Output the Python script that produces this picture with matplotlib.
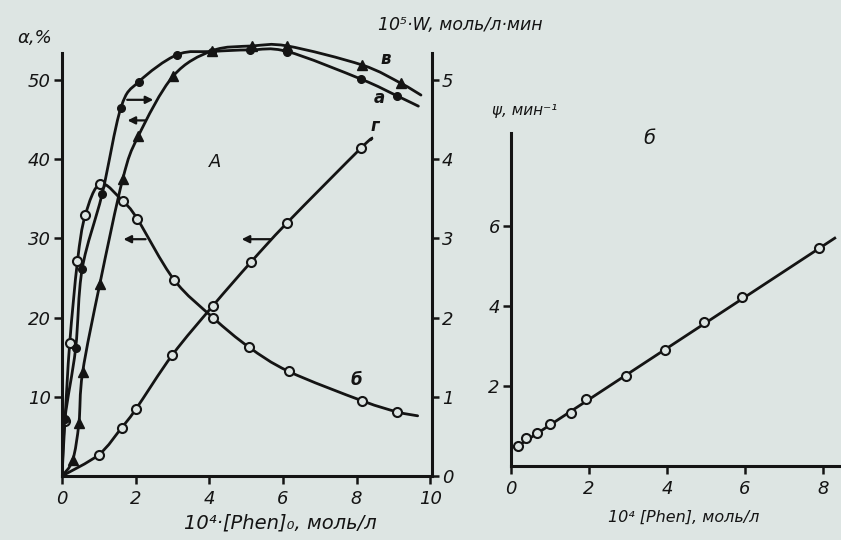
import numpy as np
import matplotlib.pyplot as plt
from matplotlib.path import Path
from matplotlib.patches import PathPatch

W_PX, H_PX = 841, 540
paper = '#dde5e3'
ink = '#141414'

plt.rcParams['font.family'] = ['DejaVu Sans']
plt.rcParams['font.style'] = 'italic'

# ---- panel A ----
# curve а: rate W (10^5 моль/л·мин), right axis
a_x = [0.08, 0.37, 0.55, 1.09, 1.60, 2.09, 3.13, 4.08, 5.11, 6.12, 8.13, 9.10]
a_y = [0.72, 1.61, 2.62, 3.56, 4.65, 4.98, 5.32, 5.36, 5.38, 5.36, 5.01, 4.80]
a_end = (9.68, 4.67)

# curve в: α, %, left axis
v_x = [0.29, 0.46, 0.56, 1.03, 1.65, 2.07, 3.02, 4.08, 5.17, 6.12, 8.15, 9.20]
v_y = [2.0, 6.7, 13.1, 24.3, 37.5, 42.9, 50.5, 53.7, 54.3, 54.3, 51.9, 49.6]
v_end = (9.75, 48.1)

# curve б: α, %
b_x = [0.08, 0.21, 0.42, 0.63, 1.04, 1.65, 2.04, 3.04, 4.10, 5.07, 6.16, 8.15, 9.10]
b_y = [7.0, 16.8, 27.1, 32.9, 36.9, 34.7, 32.5, 24.8, 20.0, 16.3, 13.2, 9.5, 8.1]
b_end = (9.66, 7.6)

# curve г: α, %
g_x = [1.00, 1.62, 2.00, 3.00, 4.10, 5.13, 6.12, 8.12]
g_y = [2.7, 6.1, 8.4, 15.3, 21.5, 27.0, 32.0, 41.4]
g_end = (8.42, 42.6)

# ---- panel Б ----
psi_x = [0.19, 0.38, 0.67, 1.00, 1.55, 1.92, 2.94, 3.96, 4.96, 5.93, 7.90]
psi_y = [0.50, 0.70, 0.82, 1.04, 1.33, 1.67, 2.26, 2.89, 3.60, 4.24, 5.46]
psi_line_x = [0.10, 8.30]
psi_line_y = [0.45, 5.70]

# annotation arrows on panel A: (tail x, tail y, head x, head y) in α units
arrows = [(1.77, 47.5, 2.48, 47.5), (2.27, 44.9, 1.78, 44.9),
          (2.27, 29.9, 1.67, 29.9), (5.67, 29.9, 4.88, 29.9)]


def smooth_line(ax, x, y, **kw):
    # Catmull-Rom spline through the points as cubic Bezier pieces
    pts = np.column_stack([x, y]).astype(float)
    n = len(pts)
    verts, codes = [pts[0]], [Path.MOVETO]
    for i in range(n - 1):
        p0 = pts[i - 1] if i > 0 else pts[i]
        p1, p2 = pts[i], pts[i + 1]
        p3 = pts[i + 2] if i + 2 < n else pts[i + 1]
        verts += [p1 + (p2 - p0) / 6, p2 - (p3 - p1) / 6, p2]
        codes += [Path.CURVE4] * 3
    ax.add_patch(PathPatch(Path(verts, codes), fill=False, capstyle='round', **kw))


def fx(px):
    return px / W_PX


def fy(py):
    return 1 - py / H_PX


fig = plt.figure(figsize=(W_PX / 100, H_PX / 100), dpi=100, facecolor=paper)

lw = 2.0
spine_w = 2.2

# panel A
axA = fig.add_axes([fx(62), fy(476), fx(432 - 62), 443.5 / H_PX])
axA.patch.set_alpha(0)
axA.set_xlim(0, 10.05)
axA.set_ylim(0, 56)
axW = axA.twinx()
axW.patch.set_alpha(0)
axW.set_ylim(0, 5.6)

smooth_line(axA, [0] + v_x + [v_end[0]], [0] + v_y + [v_end[1]], lw=lw, color=ink)
smooth_line(axA, [0] + b_x + [b_end[0]], [0] + b_y + [b_end[1]], lw=lw, color=ink)
smooth_line(axA, [0] + g_x + [g_end[0]], [0] + g_y + [g_end[1]], lw=lw, color=ink)
smooth_line(axW, [0] + a_x + [a_end[0]], [0] + a_y + [a_end[1]], lw=lw, color=ink)

axA.plot(v_x, v_y, '^', ms=6.5, color=ink, ls='none')
axA.plot(b_x, b_y, 'o', ms=6.5, mfc=paper, mec=ink, mew=1.5, ls='none')
axA.plot(g_x, g_y, 'o', ms=6.5, mfc=paper, mec=ink, mew=1.5, ls='none')
axW.plot(a_x, a_y, 'o', ms=5.5, color=ink, ls='none')

for x1, y1, x2, y2 in arrows:
    axA.annotate('', xy=(x2, y2), xytext=(x1, y1),
                 arrowprops=dict(arrowstyle='-|>', color=ink, lw=1.6,
                                 mutation_scale=11, shrinkA=0, shrinkB=0))

curve_labels = [('в', 8.8, 52.6), ('а', 8.62, 47.7), ('г', 8.5, 44.2), ('б', 8.0, 12.1)]
for s, x, y in curve_labels:
    axA.text(x, y, s, fontsize=12, fontweight='bold', color=ink, ha='center', va='center')
axA.text(4.16, 39.6, 'А', fontsize=13, color=ink, ha='center', va='center')

for sp in ['top', 'right']:
    axA.spines[sp].set_visible(False)
for sp in ['top', 'left', 'bottom']:
    axW.spines[sp].set_visible(False)
axA.spines['left'].set_bounds(0, 53.4)
axW.spines['right'].set_bounds(0, 5.34)
for sp in [axA.spines['left'], axA.spines['bottom'], axW.spines['right']]:
    sp.set_linewidth(spine_w)
    sp.set_color(ink)

axA.set_xticks([0, 2, 4, 6, 8, 10])
axA.set_yticks([10, 20, 30, 40, 50])
axW.set_yticks([0, 1, 2, 3, 4, 5])
axA.tick_params(axis='both', direction='out', length=6, width=1.8, colors=ink,
                labelsize=13, pad=2)
axA.tick_params(axis='x', pad=4)
axW.tick_params(axis='y', direction='out', length=5, width=1.8, colors=ink,
                labelsize=13, pad=2)

fig.text(fx(17), fy(38), 'α,%', fontsize=13, color=ink, va='center')
fig.text(fx(378), fy(25), '10⁵·W, моль/л·мин', fontsize=12.5, color=ink, va='center')
fig.text(fx(280), fy(523), '10⁴·[Phen]₀, моль/л', fontsize=14, color=ink,
         va='center', ha='center')

# panel Б
axB = fig.add_axes([fx(511), fy(466), fx(W_PX - 511), 333 / H_PX])
axB.patch.set_alpha(0)
axB.set_xlim(0, 8.46)
axB.set_ylim(0, 8.33)
axB.plot(psi_line_x, psi_line_y, color=ink, lw=lw)
axB.plot(psi_x, psi_y, 'o', ms=6.5, mfc=paper, mec=ink, mew=1.5, ls='none')
for sp in ['top', 'right']:
    axB.spines[sp].set_visible(False)
for sp in ['left', 'bottom']:
    axB.spines[sp].set_linewidth(spine_w)
    axB.spines[sp].set_color(ink)
axB.set_xticks([0, 2, 4, 6, 8])
axB.set_yticks([2, 4, 6])
axB.tick_params(axis='both', direction='out', length=6, width=1.8, colors=ink,
                labelsize=13, pad=2)
axB.tick_params(axis='x', pad=4)
axB.text(3.56, 8.2, 'б', fontsize=14, color=ink, ha='center', va='center')

fig.text(fx(492), fy(110), 'ψ, мин⁻¹', fontsize=11, color=ink, va='center', ha='left')
fig.text(fx(684), fy(517), '10⁴ [Phen], моль/л', fontsize=11.5, color=ink,
         va='center', ha='center')

fig.savefig('out.png', dpi=100, facecolor=paper)
